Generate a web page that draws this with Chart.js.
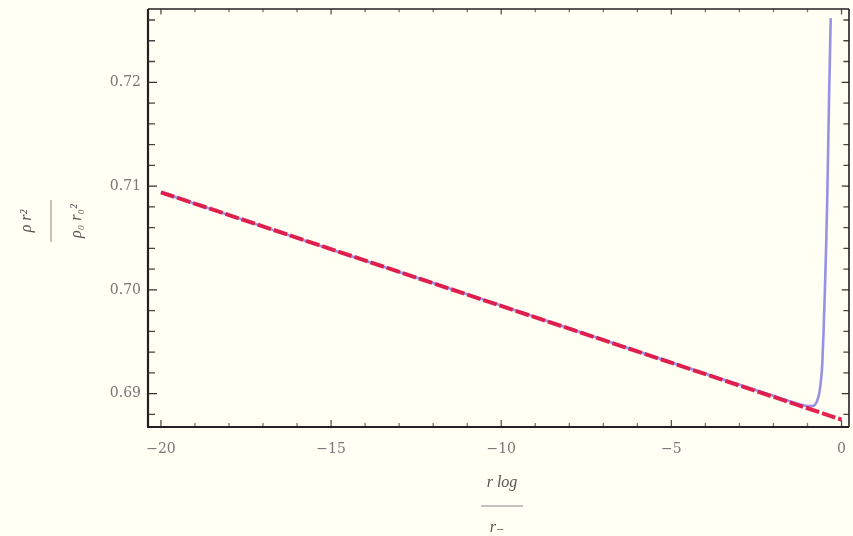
<!DOCTYPE html>
<html>
<head>
<meta charset="utf-8">
<script src="https://cdn.jsdelivr.net/npm/chart.js@4.4.1/dist/chart.umd.min.js"></script>
<style>
  html, body { margin: 0; padding: 0; background: #fffff4; }
  #wrap { width: 853px; height: 536px; position: relative; }
</style>
</head>
<body>
<div id="wrap"><canvas id="c" width="853" height="536"></canvas></div>
<script>
// Density profile ρ r² / ρ₀ r₀² against r log / r₋
const curveX = [-20, -15, -10, -5, -2, -1.5, -1.2, -1.0, -0.846, -0.728, -0.652, -0.602, -0.564, -0.526, -0.497, -0.455, -0.420, -0.367, -0.317];
const curveY = [0.7094, 0.7039, 0.6985, 0.6930, 0.6898, 0.68925, 0.68895, 0.68880, 0.68881, 0.68923, 0.69007, 0.69132, 0.69296, 0.69614, 0.69903, 0.70385, 0.70865, 0.71829, 0.72618];

// Straight asymptote (dashed)
const asymX = [-20, 0];
const asymY = [0.7094, 0.6875];

// Axis ticks
const xMajorTicks = [-20, -15, -10, -5, 0];
const xMinorTicks = [-20, -19, -18, -17, -16, -15, -14, -13, -12, -11, -10, -9, -8, -7, -6, -5, -4, -3, -2, -1, 0];
const yMajorTicks = [0.69, 0.70, 0.71, 0.72];
const yMinorTicks = [0.688, 0.690, 0.692, 0.694, 0.696, 0.698, 0.700, 0.702, 0.704, 0.706, 0.708, 0.710, 0.712, 0.714, 0.716, 0.718, 0.720, 0.722, 0.724, 0.726];
const yTickLabels = ['0.69', '0.70', '0.71', '0.72'];

const toPoints = (xs, ys) => xs.map((x, i) => ({ x: x, y: ys[i] }));

const bgPlugin = {
  id: 'bg',
  beforeDraw(chart) {
    const ctx = chart.ctx;
    ctx.save();
    ctx.fillStyle = '#fffff4';
    ctx.fillRect(0, 0, chart.width, chart.height);
    ctx.restore();
  }
};

// Mathematica-style frame with inward ticks on all four sides
const framePlugin = {
  id: 'frame',
  afterDatasetsDraw(chart) {
    const ctx = chart.ctx;
    const a = chart.chartArea;
    const xs = chart.scales.x, ys = chart.scales.y;
    ctx.save();
    ctx.lineWidth = 1.3;
    const tickX = (v, len, col) => {
      const p = xs.getPixelForValue(v);
      ctx.strokeStyle = col;
      ctx.beginPath();
      ctx.moveTo(p, a.bottom); ctx.lineTo(p, a.bottom - len);
      ctx.moveTo(p, a.top); ctx.lineTo(p, a.top + len * 0.8);
      ctx.stroke();
    };
    const tickY = (v, len, col) => {
      const p = ys.getPixelForValue(v);
      ctx.strokeStyle = col;
      ctx.beginPath();
      ctx.moveTo(a.left, p); ctx.lineTo(a.left + len, p);
      ctx.moveTo(a.right, p); ctx.lineTo(a.right - len * 0.8, p);
      ctx.stroke();
    };
    xMinorTicks.forEach(v => { if (!xMajorTicks.includes(v)) tickX(v, 4, '#777'); });
    xMajorTicks.forEach(v => tickX(v, 7, '#555'));
    yMinorTicks.forEach(v => { if (!yMajorTicks.some(m => Math.abs(m - v) < 1e-9)) tickY(v, 7, '#444'); });
    yMajorTicks.forEach(v => tickY(v, 9, '#333'));
    ctx.strokeStyle = '#222';
    ctx.lineWidth = 1.6;
    ctx.beginPath();
    ctx.moveTo(a.left, a.top); ctx.lineTo(a.right, a.top);
    ctx.moveTo(a.right, a.top); ctx.lineTo(a.right, a.bottom);
    ctx.stroke();
    ctx.lineWidth = 2.2;
    ctx.beginPath();
    ctx.moveTo(a.left, a.top); ctx.lineTo(a.left, a.bottom);
    ctx.moveTo(a.left - 1, a.bottom); ctx.lineTo(a.right, a.bottom);
    ctx.stroke();
    ctx.restore();
  }
};

// Fraction-style axis titles
const titlePlugin = {
  id: 'fractionTitles',
  afterDraw(chart) {
    const ctx = chart.ctx;
    ctx.save();
    ctx.fillStyle = '#555';
    ctx.strokeStyle = '#888';
    ctx.lineWidth = 1;
    ctx.textAlign = 'center';
    ctx.textBaseline = 'middle';
    ctx.font = 'italic 16px "Liberation Serif", "DejaVu Serif", serif';
    // x title
    ctx.fillText('r log', 502, 483);
    ctx.beginPath(); ctx.moveTo(481, 506); ctx.lineTo(523, 506); ctx.stroke();
    ctx.fillText('r\u208B', 497, 528);
    // y title (rotated)
    ctx.translate(51, 221);
    ctx.rotate(-Math.PI / 2);
    ctx.fillText('\u03C1 r\u00B2', 0, -24);
    ctx.beginPath(); ctx.moveTo(-21, 0); ctx.lineTo(21, 0); ctx.stroke();
    ctx.fillText('\u03C1\u2080 r\u2080\u00B2', 0, 26);
    ctx.restore();
  }
};

const tickFont = { family: '"DejaVu Serif", serif', size: 14 };

new Chart(document.getElementById('c'), {
  type: 'line',
  data: {
    datasets: [
      {
        data: toPoints(asymX, asymY),
        borderColor: 'rgba(226, 24, 70, 0.95)',
        borderWidth: 4,
        borderDash: [14, 3],
        pointRadius: 0,
        fill: false
      },
      {
        data: toPoints(curveX, curveY),
        borderColor: 'rgba(125, 118, 228, 0.8)',
        borderWidth: 2.6,
        pointRadius: 0,
        cubicInterpolationMode: 'monotone',
        fill: false
      }
    ]
  },
  options: {
    responsive: false,
    animation: false,
    events: [],
    layout: { padding: { top: 9, right: 4, left: 0, bottom: 0 } },
    plugins: { legend: { display: false }, tooltip: { enabled: false } },
    scales: {
      x: {
        type: 'linear',
        min: -20.38,
        max: 0.22,
        grid: { display: false, drawTicks: false },
        border: { display: false },
        afterBuildTicks: s => { s.ticks = xMajorTicks.map(v => ({ value: v })); },
        afterFit: s => { s.height = 109; s.paddingLeft = 0; s.paddingRight = 0; },
        ticks: {
          padding: 14,
          maxRotation: 0,
          autoSkip: false,
          color: '#777',
          font: tickFont,
          callback: v => (v < 0 ? '\u2212' + Math.abs(v) : String(v))
        }
      },
      y: {
        type: 'linear',
        min: 0.68679,
        max: 0.72706,
        grid: { display: false, drawTicks: false },
        border: { display: false },
        afterBuildTicks: s => { s.ticks = yMajorTicks.map(v => ({ value: v })); },
        afterFit: s => { s.width = 148; s.paddingTop = 0; s.paddingBottom = 0; },
        ticks: {
          padding: 7,
          autoSkip: false,
          color: '#777',
          font: tickFont,
          callback: (v) => {
            const i = yMajorTicks.findIndex(m => Math.abs(m - v) < 1e-9);
            return i >= 0 ? yTickLabels[i] : '';
          }
        }
      }
    }
  },
  plugins: [bgPlugin, framePlugin, titlePlugin]
});
</script>
</body>
</html>
